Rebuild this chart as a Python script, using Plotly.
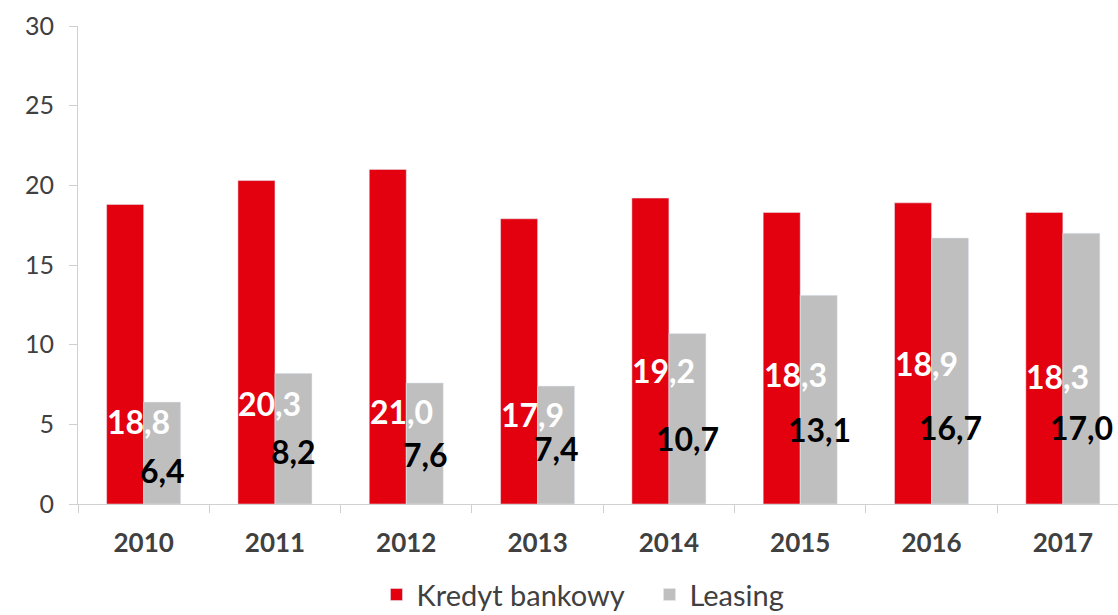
import plotly.graph_objects as go

lata = ["2010", "2011", "2012", "2013", "2014", "2015", "2016", "2017"]
kredyt = [18.8, 20.3, 21.0, 17.9, 19.2, 18.3, 18.9, 18.3]
leasing = [6.4, 8.2, 7.6, 7.4, 10.7, 13.1, 16.7, 17.0]

# wysokości etykiet (tak jak w oryginale, nie przy szczytach słupków)
poz_kredyt = [5.2, 6.3, 5.8, 5.6, 8.4, 8.1, 8.8, 8.0]
poz_leasing = [2.1, 3.3, 3.1, 3.5, 4.1, 4.7, 4.8, 4.8]

CZERWONY = "#e3000f"
SZARY = "#bfbfbf"
FONT = "Lato"


def fmt(v):
    return f"{v:.1f}".replace(".", ",")


fig = go.Figure()
fig.add_trace(go.Bar(x=lata, y=kredyt, name="Kredyt bankowy", marker_color=CZERWONY))
fig.add_trace(go.Bar(x=lata, y=leasing, name="Leasing", marker_color=SZARY))

# na osi kategorii "2010" byłoby czytane jako liczba, więc podaję indeks
for i, (v, p) in enumerate(zip(kredyt, poz_kredyt)):
    fig.add_annotation(
        x=i, y=p, text=f"<b>{fmt(v)}</b>", showarrow=False, xshift=-5,
        xanchor="center", font=dict(family=FONT, size=32, color="white"),
    )
for i, (v, p) in enumerate(zip(leasing, poz_leasing)):
    fig.add_annotation(
        x=i, y=p, text=f"<b>{fmt(v)}</b>", showarrow=False, xshift=19,
        xanchor="center", font=dict(family=FONT, size=32, color="black"),
    )

fig.update_layout(
    width=1118,
    height=615,
    margin=dict(l=78, r=0, t=26, b=111, autoexpand=False),
    plot_bgcolor="white",
    paper_bgcolor="white",
    barmode="group",
    bargap=0.436,
    bargroupgap=0,
    font=dict(family=FONT, color="#404040"),
    legend=dict(
        orientation="h",
        x=0.287,
        xanchor="left",
        y=-0.243,
        yanchor="bottom",
        font=dict(size=29, color="#404040"),
        itemwidth=30,
        entrywidth=228,
    ),
)
fig.update_xaxes(
    range=[-0.5, 7.42],
    automargin=False,
    showline=True,
    linecolor="#d0d0d0",
    linewidth=1,
    ticks="outside",
    tickson="boundaries",
    ticklen=8,
    tickcolor="#d0d0d0",
    ticklabelstandoff=16,
    tickfont=dict(size=26, color="#404040", family=FONT),
    tickprefix="<b>",
    ticksuffix="</b>",
    showgrid=False,
)
fig.update_yaxes(
    range=[0, 30],
    dtick=5,
    automargin=False,
    showline=True,
    linecolor="#d0d0d0",
    linewidth=1,
    ticks="outside",
    ticklen=8,
    tickcolor="#d0d0d0",
    ticklabelstandoff=10,
    tickfont=dict(size=25, color="#404040", family=FONT),
    showgrid=False,
    zeroline=False,
)

# bez marginesu strony i pasków przewijania
fig.write_html(
    "out.html",
    config={"displayModeBar": False},
    post_script="document.body.style.margin='0';document.body.style.overflow='hidden';",
)
